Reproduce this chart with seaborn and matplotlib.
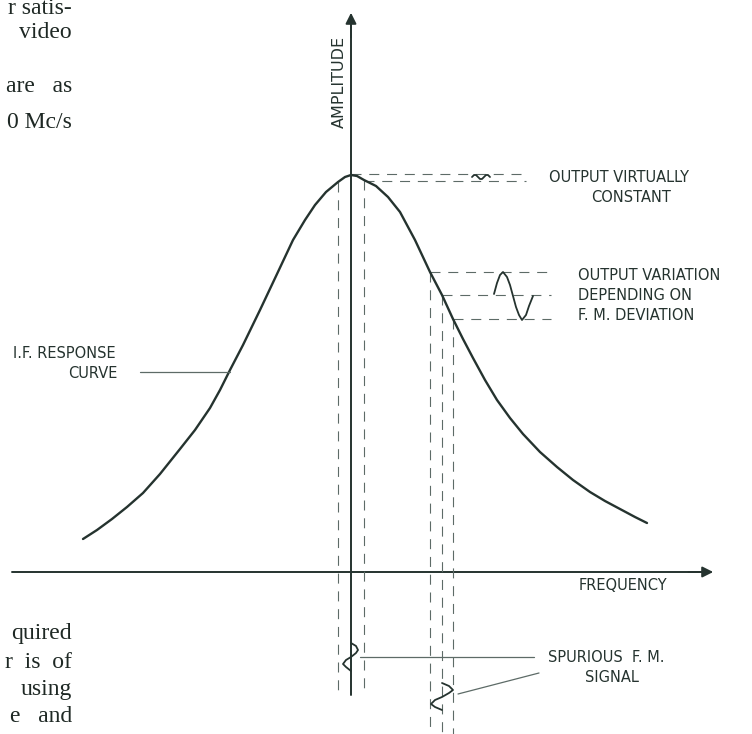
import matplotlib
matplotlib.use("Agg")
import matplotlib.pyplot as plt
import seaborn as sns

# I.F. response curve (pixel units, y grows downward)
curve_x = [83, 97, 112, 127, 143, 160, 180, 195, 210, 220, 230, 243, 260,
           277, 293, 305, 315, 326, 338, 345, 351, 357, 364, 376, 388, 400,
           415, 430, 442, 453, 463, 473, 485, 497, 510, 523, 540, 557, 573,
           590, 605, 620, 635, 647]
curve_y = [539, 530, 519, 507, 493, 474, 449, 430, 408, 390, 370, 345, 310,
           274, 240, 220, 205, 192, 182, 177, 175, 176, 180, 186, 197, 212,
           240, 272, 295, 319, 339, 358, 380, 400, 418, 434, 452, 467, 480,
           492, 501, 509, 517, 523]

# points on the curve that are projected with dashed lines
peak_idx = [18, 22]
slope_idx = [27, 28, 29]
peak_levels = [174, 181]

# small ripple at the peak, big output swing on the slope
ripple_x = [472, 474, 476, 478, 480, 482, 484, 486, 488, 490]
ripple_y = [177, 175, 175, 177, 179, 179, 177, 175, 175, 177]
swing_x = [494, 497, 500, 503, 507, 510, 513, 516, 519, 522, 526, 529, 533]
swing_y = [294, 283, 275, 272, 277, 285, 296, 307, 315, 320, 315, 306, 296]

# spurious f.m. signals drawn on the frequency axis
spur1_x = [351, 356, 358, 356, 351, 346, 343, 346, 351]
spur1_y = [643, 646, 650, 653, 657, 660, 664, 667, 671]
spur2_x = [442, 449, 453, 449, 442, 435, 431, 435, 442]
spur2_y = [683, 686, 690, 693, 697, 700, 704, 707, 710]

# bits of the book page around the figure
page_left_top = ["r satis-", "video", "are   as", "0 Mc/s"]
page_top_y = [9, 33, 86, 122]
page_left_bottom = ["quired", "r  is  of", "using", "e   and"]
page_bottom_y = [634, 662, 690, 716]

INK = "#25332f"
DASH = "#5d6b67"

sns.set_theme(style="white")
plt.rcParams["font.family"] = ["DejaVu Sans"]

fig = plt.figure(figsize=(7.52, 7.34), dpi=100)
ax = fig.add_axes([0, 0, 1, 1])
ax.set_xlim(0, 752)
ax.set_ylim(734, 0)
ax.axis("off")

# axes with arrows
ax.plot([351, 351], [695, 20], color=INK, lw=1.4)
ax.plot([12, 706], [572, 572], color=INK, lw=1.4)
ax.annotate("", xy=(351, 10), xytext=(351, 40),
            arrowprops=dict(arrowstyle="-|>", color=INK, lw=1.4, mutation_scale=16))
ax.annotate("", xy=(716, 572), xytext=(686, 572),
            arrowprops=dict(arrowstyle="-|>", color=INK, lw=1.4, mutation_scale=16))

# dashed construction lines
dash = dict(color=DASH, lw=0.8, linestyle=(0, (9, 7)))
for i in peak_idx:
    ax.plot([curve_x[i], curve_x[i]], [curve_y[i], 695], **dash)
ax.plot([curve_x[20], 526], [peak_levels[0], peak_levels[0]], **dash)
ax.plot([curve_x[22], 526], [peak_levels[1], peak_levels[1]], **dash)
for i in slope_idx:
    ax.plot([curve_x[i], 551], [curve_y[i], curve_y[i]], **dash)
    ax.plot([curve_x[i], curve_x[i]], [curve_y[i], 734], **dash)

# response curve and signal sketches
sns.lineplot(x=curve_x, y=curve_y, sort=False, estimator=None, color=INK,
             lw=1.7, ax=ax).lines[-1].set_solid_joinstyle("round")
for xs, ys in [(ripple_x, ripple_y), (swing_x, swing_y),
               (spur1_x, spur1_y), (spur2_x, spur2_y)]:
    sns.lineplot(x=xs, y=ys, sort=False, estimator=None, color=INK, lw=1.3, ax=ax)

# leader lines
ax.plot([140, curve_x[10]], [372, 372], color=DASH, lw=0.9)
ax.plot([360, 534], [657, 657], color=DASH, lw=0.9)
ax.plot([458, 539], [694, 673], color=DASH, lw=0.9)

lab = dict(color=INK, fontsize=10.5)
ax.text(339, 82, "AMPLITUDE", rotation=90, ha="center", va="center", color=INK, fontsize=11.5)
ax.text(549, 178, "OUTPUT VIRTUALLY", ha="left", va="center", **lab)
ax.text(631, 198, "CONSTANT", ha="center", va="center", **lab)
ax.text(578, 276, "OUTPUT VARIATION", ha="left", va="center", **lab)
ax.text(578, 296, "DEPENDING ON", ha="left", va="center", **lab)
ax.text(578, 316, "F. M. DEVIATION", ha="left", va="center", **lab)
ax.text(13, 353, "I.F. RESPONSE", ha="left", va="center", **lab)
ax.text(68, 374, "CURVE", ha="left", va="center", **lab)
ax.text(579, 585, "FREQUENCY", ha="left", va="center", **lab)
ax.text(548, 657, "SPURIOUS  F. M.", ha="left", va="center", **lab)
ax.text(612, 677, "SIGNAL", ha="center", va="center", **lab)

page = dict(color="#1e2824", fontsize=17, family=["Liberation Serif", "DejaVu Serif"],
            ha="right", va="center")
for s, y in zip(page_left_top, page_top_y):
    ax.text(72, y, s, **page)
for s, y in zip(page_left_bottom, page_bottom_y):
    ax.text(72, y, s, **page)

fig.savefig("out.png", dpi=100, facecolor="white")
